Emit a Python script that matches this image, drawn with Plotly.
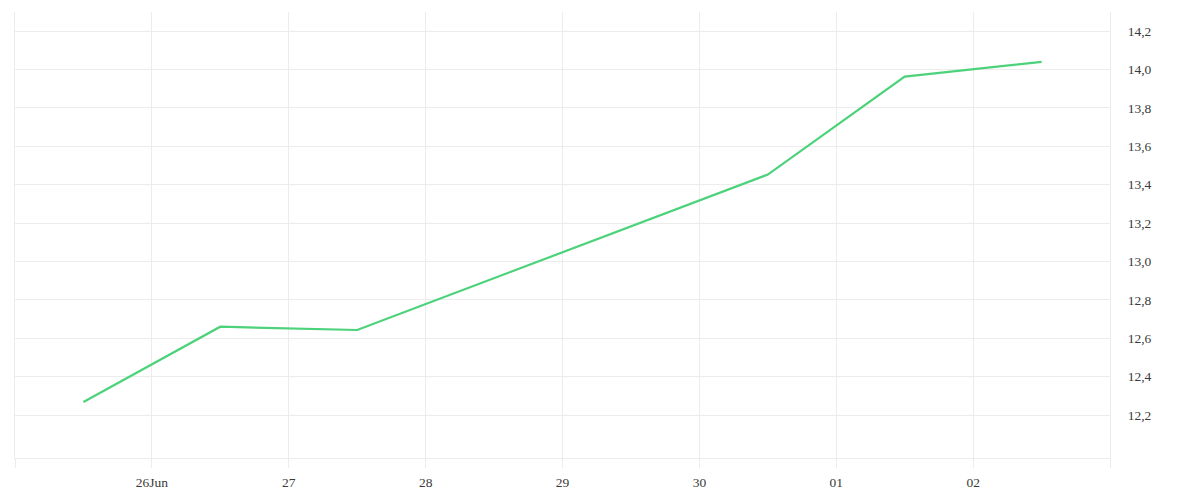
import plotly.graph_objects as go

# daily values (weekend 28-29 Jun has no data)
dates = [
    "2025-06-25 12:00",
    "2025-06-26 12:00",
    "2025-06-27 12:00",
    "2025-06-30 12:00",
    "2025-07-01 12:00",
    "2025-07-02 12:00",
]
values = [12.268, 12.66, 12.643, 13.453, 13.963, 14.04]

tick_dates = [
    "2025-06-25", "2025-06-26", "2025-06-27", "2025-06-28", "2025-06-29",
    "2025-06-30", "2025-07-01", "2025-07-02", "2025-07-03",
]
tick_labels = ["", "26Jun", "27", "28", "29", "30", "01", "02", ""]

y_ticks = [12.2, 12.4, 12.6, 12.8, 13.0, 13.2, 13.4, 13.6, 13.8, 14.0, 14.2]

grid = "#ececec"

fig = go.Figure()

fig.add_trace(
    go.Scatter(
        x=dates,
        y=values,
        mode="lines",
        line=dict(color="#4cd27a", width=2.2),
        hoverinfo="x+y",
    )
)

fig.update_layout(
    width=1200,
    height=500,
    margin=dict(l=7, r=98, t=4, b=50),
    paper_bgcolor="white",
    plot_bgcolor="white",
    showlegend=False,
    separators=",.",
    font=dict(family="Liberation Serif", size=13.5, color="#3a3a3a"),
)

fig.update_xaxes(
    range=["2025-06-25", "2025-07-03"],
    tickmode="array",
    tickvals=tick_dates,
    ticktext=tick_labels,
    showgrid=True,
    gridcolor=grid,
    gridwidth=1,
    ticks="outside",
    ticklen=9,
    tickcolor=grid,
    ticklabelstandoff=3,
    showline=True,
    linecolor=grid,
    linewidth=1,
    zeroline=False,
)

# left/right frame lines drawn by the y axis
fig.update_yaxes(
    side="right",
    range=[11.976, 14.30],
    tickmode="array",
    tickvals=y_ticks,
    tickformat=".1f",
    showgrid=True,
    gridcolor=grid,
    gridwidth=1,
    ticks="outside",
    ticklen=14,
    tickcolor="rgba(0,0,0,0)",
    showline=True,
    linecolor=grid,
    linewidth=1,
    mirror=True,
    zeroline=False,
)

fig.write_html("out.html")
